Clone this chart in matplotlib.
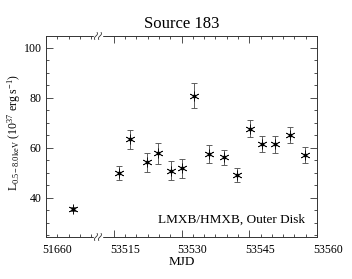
import numpy as np
import matplotlib
matplotlib.use('Agg')
import matplotlib.pyplot as plt
import matplotlib.transforms as mtransforms

matplotlib.rcParams['font.family'] = 'serif'
matplotlib.rcParams['font.serif'] = ['Liberation Serif', 'DejaVu Serif']
matplotlib.rcParams['mathtext.fontset'] = 'custom'
matplotlib.rcParams['mathtext.rm'] = 'Liberation Serif'
matplotlib.rcParams['mathtext.it'] = 'Liberation Serif:italic'

# observations (MJD), luminosity in 1e37 erg/s and 1-sigma errors
mjd = [51665.9, 53516.2, 53518.7, 53522.3, 53524.8, 53527.6, 53530.2, 53532.8,
       53536.1, 53539.4, 53542.2, 53545.1, 53547.9, 53550.6, 53554.0, 53557.3]
lum = [35.4, 50.0, 63.4, 54.2, 57.8, 50.8, 51.8, 80.8,
       57.5, 56.2, 49.1, 67.7, 61.5, 61.5, 65.1, 57.1]
err = [0.8, 2.8, 3.7, 3.7, 4.1, 3.8, 3.8, 5.0,
       3.5, 3.1, 2.9, 3.4, 3.2, 3.4, 3.3, 3.1]

tick_pos = [53500, 53515, 53530, 53545, 53560]
tick_lab = ['51660', '53515', '53530', '53545', '53560']
shift = 53500 - 51660   # early epoch is drawn next to the later ones
x_break = 53511.5

xplot = [m + shift if m < 53000 else m for m in mjd]

fig = plt.figure(figsize=(3.52, 2.79), dpi=100)
ax = fig.add_axes([46/352, 1 - 237/279, 271/352, 201/279])

ax.errorbar(xplot, lum, yerr=err, fmt='none', ecolor='#555555', elinewidth=0.65,
            capsize=2, capthick=0.65)
ax.plot(xplot, lum, ls='none', marker=(6, 2, 0), ms=7, mew=0.55, color='#111111')
ax.plot(xplot, lum, ls='none', marker='o', ms=1.8, color='k')

ax.set_xlim(53500, 53560)
ax.set_ylim(24.3, 104.8)
ax.set_xticks(tick_pos)
ax.set_xticklabels(tick_lab)
ax.set_xticks(np.arange(53500, 53561, 2.5), minor=True)
ax.set_yticks([40, 60, 80, 100])
ax.set_yticks(np.arange(25, 105, 5), minor=True)
ax.tick_params(which='both', direction='in', top=True, right=True,
               labelsize=8.6, color='#333333', width=0.6)
ax.tick_params(which='major', length=5)
ax.tick_params(which='minor', length=2.5)
ax.tick_params(axis='x', pad=5)
ax.tick_params(axis='y', pad=3)
for s in ax.spines.values():
    s.set_linewidth(0.7)
    s.set_color('#333333')

# tick labels sit a little to the right of their ticks
off = mtransforms.ScaledTranslation(0.11, 0, fig.dpi_scale_trans)
for lab in ax.get_xticklabels():
    lab.set_transform(lab.get_transform() + off)

# axis break marks
xb = (x_break - 53500) / 60
for yb in (0, 1):
    ax.add_patch(plt.Rectangle((xb - 4/271, yb - 3/201), 8/271, 6/201,
                               transform=ax.transAxes, color='white',
                               clip_on=False, zorder=5))
    t = np.linspace(-1, 1, 20)
    for dx in (-2.0, 2.0):
        xs = xb + (dx + 1.2 * t + 0.8 * np.sin(np.pi * t)) / 271
        ys = yb + 3.5 * t / 201
        ax.plot(xs, ys, color='#333333', lw=0.6, transform=ax.transAxes,
                clip_on=False, zorder=6)

ax.set_title('Source 183', fontsize=12, pad=6)
ax.set_xlabel('MJD', fontsize=9.5, labelpad=0)
ax.set_ylabel(r'L$_{\rm 0.5-8.0\,keV}$ (10$^{37}$ erg s$^{-1}$)', fontsize=8.5)
ax.yaxis.set_label_coords(-0.085, 0.52)
ax.text(0.955, 0.085, 'LMXB/HMXB, Outer Disk', transform=ax.transAxes,
        ha='right', va='center', fontsize=9.5)

fig.savefig('out.png', dpi=100)
